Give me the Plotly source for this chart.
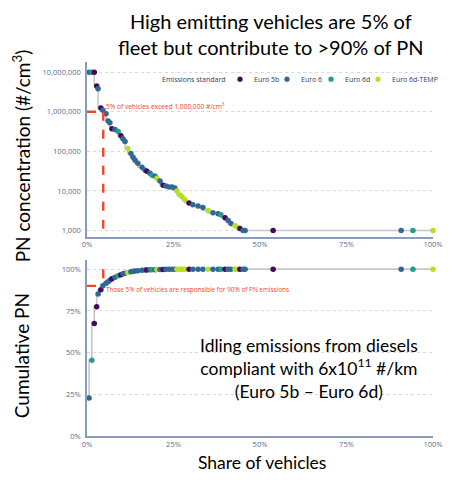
import plotly.graph_objects as go

# ---------------- data ----------------
share_pct = [0.6, 1.4, 2.1, 2.8, 3.2, 4.0, 4.6, 5.5, 6.1, 6.6,
             7.2, 8.1, 9.0, 9.8, 10.4, 11.0, 11.8, 12.7, 13.3, 13.9,
             14.7, 15.9, 16.8, 17.3, 18.2, 18.8, 19.7, 20.2, 21.1, 22.0,
             22.8, 23.7, 24.6, 25.4, 26.0, 26.9, 27.5, 28.3, 29.5, 30.6,
             32.1, 33.5, 35.0, 36.4, 37.9, 38.7, 39.9, 40.8, 41.6, 42.8,
             43.6, 44.2, 45.1, 45.7, 53.8, 90.8, 94.2, 100.0]

pn_concentration = [1e7, 1e7, 1e7, 4.5e6, 3.8e6, 1.25e6, 1.1e6, 8.9e5, 5.9e5, 5.3e5,
                    3.75e5, 3.55e5, 3.16e5, 2.5e5, 2.1e5, 1.78e5, 1.19e5, 8.9e4, 7.1e4, 6.0e4,
                    5.0e4, 4.0e4, 3.35e4, 3.16e4, 2.8e4, 2.5e4, 2.37e4, 2.1e4, 1.78e4, 1.4e4,
                    1.33e4, 1.26e4, 1.26e4, 1.19e4, 1.0e4, 7.9e3, 7.1e3, 6.0e3, 5.0e3, 4.5e3,
                    4.2e3, 3.8e3, 3.2e3, 2.8e3, 2.65e3, 2.5e3, 2.1e3, 1.8e3, 1.5e3, 1.33e3,
                    1.19e3, 1.12e3, 1.0e3, 1.0e3, 1.0e3, 1.0e3, 1.0e3, 1.0e3]

cumulative_pn = [23.0, 45.6, 67.5, 77.5, 85.2, 87.6, 90.0, 91.5, 92.5, 93.3,
                 94.2, 95.2, 96.0, 96.7, 97.2, 97.6, 98.0, 98.4, 98.7, 98.9,
                 99.1, 99.3, 99.45, 99.55, 99.6, 99.65, 99.7, 99.75, 99.8, 99.83,
                 99.86, 99.88, 99.9, 99.92, 99.93, 99.94, 99.95, 99.96, 99.97, 99.97,
                 99.98, 99.98, 99.99, 99.99, 99.99, 99.99, 100, 100, 100, 100,
                 100, 100, 100, 100, 100, 100, 100, 100]

standard = ["Euro 6", "Euro 6d", "Euro 5b", "Euro 5b", "Euro 6", "Euro 5b", "Euro 6", "Euro 6", "Euro 6", "Euro 6",
            "Euro 5b", "Euro 6", "Euro 6d", "Euro 5b", "Euro 6", "Euro 6", "Euro 6d-TEMP", "Euro 6", "Euro 6", "Euro 6",
            "Euro 6", "Euro 6", "Euro 6", "Euro 5b", "Euro 6", "Euro 6d", "Euro 6", "Euro 6d-TEMP", "Euro 6", "Euro 5b",
            "Euro 6", "Euro 6", "Euro 6", "Euro 6", "Euro 6d-TEMP", "Euro 6d-TEMP", "Euro 6d-TEMP", "Euro 6d-TEMP", "Euro 5b", "Euro 6",
            "Euro 6", "Euro 6", "Euro 6d-TEMP", "Euro 6", "Euro 6", "Euro 6d", "Euro 5b", "Euro 6", "Euro 6", "Euro 6d-TEMP",
            "Euro 6d-TEMP", "Euro 5b", "Euro 6", "Euro 6", "Euro 5b", "Euro 6", "Euro 6d", "Euro 6d-TEMP"]

standards = ["Euro 5b", "Euro 6", "Euro 6d", "Euro 6d-TEMP"]
standard_colors = {"Euro 5b": "#46085c", "Euro 6": "#2f6896", "Euro 6d": "#1fa088", "Euro 6d-TEMP": "#b8de29"}

pn_ticks = [1000, 10000, 100000, 1000000, 10000000]
pn_ticklabels = ["1,000", "10,000", "100,000", "1,000,000", "10,000,000"]
share_ticks = [0, 25, 50, 75, 100]
share_ticklabels = ["0%", "25%", "50%", "75%", "100%"]
cum_ticks = [0, 25, 50, 75, 100]
cum_ticklabels = ["0%", "25%", "50%", "75%", "100%"]

highlight_share = 4.7
highlight_pn = 1e6
highlight_cum = 90

# ---------------- layout helpers ----------------
W, H = 452, 480
L, R = 87, 19
PW = W - L - R


def px(x):
    return (x - L) / PW


def py(y):
    return (H - y) / H


SMALL = "Open Sans"
BIG = "Lato"
tick_color = "#5d6b8a"
axis_color = "#8a9bbd"
grid_color = "#d9d9d9"
red = "#f0462b"

fig = go.Figure()

# top panel: line + markers
fig.add_trace(go.Scatter(x=share_pct, y=pn_concentration, mode="lines", line=dict(color="#c6c6c6", width=1.6, shape="vh"),
                         hoverinfo="skip", showlegend=False, xaxis="x", yaxis="y", cliponaxis=False))
fig.add_trace(go.Scatter(x=share_pct, y=pn_concentration, mode="markers",
                         marker=dict(color=[standard_colors[s] for s in standard], size=5.5),
                         showlegend=False, xaxis="x", yaxis="y", cliponaxis=False))
# bottom panel
fig.add_trace(go.Scatter(x=share_pct, y=cumulative_pn, mode="lines", line=dict(color="#c6c6c6", width=1.6, shape="vh"),
                         hoverinfo="skip", showlegend=False, xaxis="x2", yaxis="y2", cliponaxis=False))
fig.add_trace(go.Scatter(x=share_pct, y=cumulative_pn, mode="markers",
                         marker=dict(color=[standard_colors[s] for s in standard], size=5.5),
                         showlegend=False, xaxis="x2", yaxis="y2", cliponaxis=False))

axis_common = dict(showline=True, linecolor=axis_color, linewidth=1.5, ticks="",
                   tickfont=dict(family=SMALL, size=7.5, color=tick_color), zeroline=False)

top_dom = [py(239), py(63)]
bot_dom = [py(441), py(263)]

fig.update_layout(
    width=W, height=H,
    margin=dict(l=L, r=R, t=0, b=0),
    paper_bgcolor="white", plot_bgcolor="white",
    showlegend=False,
    xaxis=dict(domain=[0, 1], range=[0, 100], anchor="y", tickvals=share_ticks, ticktext=share_ticklabels,
               showgrid=False, **axis_common),
    yaxis=dict(domain=top_dom, type="log", range=[2.85, 7.25], anchor="x", tickvals=pn_ticks,
               ticktext=pn_ticklabels, showgrid=True, gridcolor=grid_color, griddash="dot", gridwidth=1,
               ticklabelstandoff=3, **axis_common),
    xaxis2=dict(domain=[0, 1], range=[0, 100], anchor="y2", tickvals=share_ticks, ticktext=share_ticklabels,
                showgrid=False, **axis_common),
    yaxis2=dict(domain=bot_dom, range=[0, 105.3], anchor="x2", tickvals=cum_ticks, ticktext=cum_ticklabels,
                showgrid=True, gridcolor=grid_color, griddash="dot", gridwidth=1, ticklabelstandoff=3,
                **axis_common),
)

shapes = []
dash = dict(color=red, width=2.4, dash="dash")
shapes.append(dict(type="line", xref="x", yref="y", x0=0, x1=highlight_share, y0=highlight_pn, y1=highlight_pn, line=dash))
shapes.append(dict(type="line", xref="x", yref="y", x0=highlight_share, x1=highlight_share, y0=highlight_pn, y1=1050, line=dash))
shapes.append(dict(type="line", xref="x2", yref="y2", x0=0, x1=highlight_share, y0=highlight_cum, y1=highlight_cum, line=dash))
shapes.append(dict(type="line", xref="x2", yref="y2", x0=highlight_share, x1=highlight_share, y0=100, y1=highlight_cum, line=dash))

# custom legend
legend_marker_x = [240, 287, 331, 378]
legend_text_x = [252, 299, 343, 390]
legend_y = 80
for s, mx in zip(standards, legend_marker_x):
    shapes.append(dict(type="circle", xref="paper", yref="paper", xsizemode="pixel", ysizemode="pixel",
                       xanchor=px(mx), yanchor=py(legend_y), x0=-2.6, x1=2.6, y0=-2.6, y1=2.6,
                       fillcolor=standard_colors[s], line=dict(width=0)))
fig.update_layout(shapes=shapes)

ann = []
ann.append(dict(text="Emissions standard", xref="paper", yref="paper", x=px(228), y=py(legend_y), xanchor="right",
                yanchor="middle", showarrow=False, font=dict(family=SMALL, size=7, color="#2c3a66")))
for s, tx in zip(standards, legend_text_x):
    ann.append(dict(text=s, xref="paper", yref="paper", x=px(tx), y=py(legend_y), xanchor="left",
                    yanchor="middle", showarrow=False, font=dict(family=SMALL, size=7, color="#2c3a66")))

ann.append(dict(text="5% of vehicles exceed 1,000,000 #/cm<sup>3</sup>", xref="paper", yref="paper", x=px(104),
                y=py(107), xanchor="left", yanchor="middle", showarrow=False,
                font=dict(family=SMALL, size=6.6, color=red)))
ann.append(dict(text="Those 5% of vehicles are responsible for 90% of PN emissions", xref="paper", yref="paper",
                x=px(104), y=py(293), xanchor="left", yanchor="middle", showarrow=False,
                font=dict(family=SMALL, size=6.4, color=red)))

ann.append(dict(text="High emitting vehicles are 5% of<br>fleet but contribute to >90% of PN", xref="paper",
                yref="paper", x=px(271), y=py(34), xanchor="center", yanchor="middle", showarrow=False,
                font=dict(family=BIG, size=20, color="black")))
ann.append(dict(text="Idling emissions from diesels<br>compliant with 6x10<sup>11</sup> #/km<br>(Euro 5b – Euro 6d)",
                xref="paper", yref="paper", x=px(309), y=py(372), xanchor="center", yanchor="middle",
                showarrow=False, font=dict(family=BIG, size=17.5, color="black")))
ann.append(dict(text="PN concentration (#/cm<sup>3</sup>)", xref="paper", yref="paper", x=px(21), y=py(158),
                xanchor="center", yanchor="middle", textangle=-90, showarrow=False,
                font=dict(family=BIG, size=19, color="black")))
ann.append(dict(text="Cumulative PN", xref="paper", yref="paper", x=px(21), y=py(360),
                xanchor="center", yanchor="middle", textangle=-90, showarrow=False,
                font=dict(family=BIG, size=19, color="black")))
ann.append(dict(text="Share of vehicles", xref="paper", yref="paper", x=px(262), y=py(467),
                xanchor="center", yanchor="middle", showarrow=False,
                font=dict(family=BIG, size=17.5, color="black")))
fig.update_layout(annotations=ann)

fig.write_html("out.html", config={"displayModeBar": False},
               post_script="document.body.style.margin='0';document.body.style.overflow='hidden';")
